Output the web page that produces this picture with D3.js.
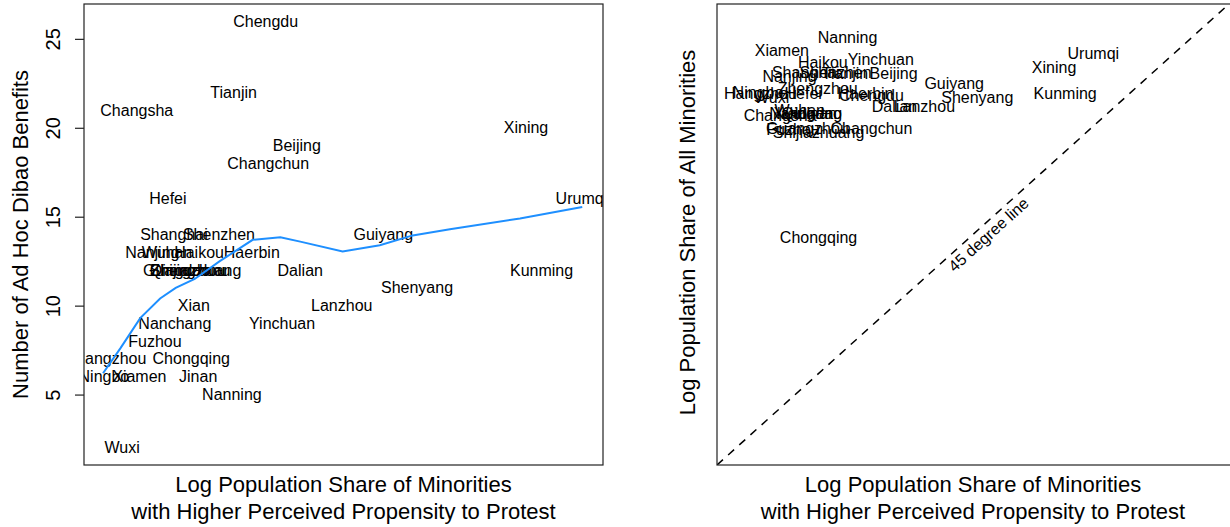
<!DOCTYPE html>
<html>
<head>
<meta charset="utf-8">
<script src="https://cdn.jsdelivr.net/npm/d3@7"></script>
<style>
  html, body { margin: 0; padding: 0; background: #fff; }
  svg { display: block; font-family: "Liberation Sans", Arial, Helvetica, sans-serif; }
</style>
</head>
<body>
<svg id="chart" width="1230" height="527"></svg>
<script>
// ---------------- data ----------------
const cities = ["Beijing","Changchun","Changsha","Chengdu","Chongqing","Dalian","Fuzhou","Guangzhou","Guiyang","Haerbin","Haikou","Hangzhou","Hefei","Jinan","Kunming","Lanzhou","Nanchang","Nanjing","Nanning","Ningbo","Qingdao","Shanghai","Shenyang","Shenzhen","Shijiazhuang","Tianjin","Urumqi","Wuhan","Wuxi","Xiamen","Xian","Xining","Yinchuan","Zhengzhou"];

// left panel: x = log share of minorities w/ higher perceived propensity to protest, y = ad hoc dibao benefits
const leftX = [-4.54,-4.87,-6.39,-4.90,-5.76,-4.50,-6.18,-5.84,-3.54,-5.06,-5.67,-6.70,-6.03,-5.68,-1.71,-4.02,-5.95,-6.21,-5.29,-6.77,-5.89,-5.96,-3.15,-5.44,-5.71,-5.27,-1.25,-6.04,-6.56,-6.36,-5.73,-1.89,-4.71,-5.77];
const leftY = [19,18,21,26,7,12,8,12,14,13,13,7,16,6,12,10,9,13,5,6,12,14,11,14,12,22,16,13,2,6,10,20,9,12];

// loess smoother on left panel
const smoothX = [-6.78,-6.58,-6.35,-6.12,-5.94,-5.72,-5.43,-5.05,-4.73,-4.50,-4.01,-3.58,-3.20,-2.77,-1.96,-1.24];
const smoothY = [6.2,7.6,9.3,10.4,11.0,11.5,12.5,13.7,13.85,13.6,13.05,13.4,13.95,14.3,14.9,15.55];

// right panel: x = log share of minorities w/ higher propensity, y = log share of all minorities
const rightX = [-3.93,-4.19,-5.26,-4.19,-4.81,-3.92,-5.11,-4.94,-3.22,-4.26,-4.76,-5.49,-4.99,-4.82,-1.92,-3.57,-4.96,-5.15,-4.47,-5.52,-4.89,-4.96,-2.95,-4.61,-4.81,-4.50,-1.59,-5.03,-5.36,-5.24,-5.15,-2.05,-4.08,-4.82];
const rightY = [-0.90,-1.62,-1.45,-1.19,-3.04,-1.33,-1.63,-1.62,-1.03,-1.16,-0.76,-1.17,-1.17,-1.42,-1.16,-1.34,-1.42,-0.95,-0.44,-1.15,-1.43,-0.89,-1.22,-0.89,-1.67,-0.90,-0.64,-1.38,-1.22,-0.61,-1.43,-0.82,-0.72,-1.10];

const yTicksLeft = [5, 10, 15, 20, 25];
const diagDomain = [-6, 0];

const xTitleLines = ["Log Population Share of Minorities", "with Higher Perceived Propensity to Protest"];
const yTitleLeft = "Number of Ad Hoc Dibao Benefits";
const yTitleRight = "Log Population Share of All Minorities";
const diagLabel = "45 degree line";

// ---------------- layout ----------------
const svg = d3.select("#chart");
const L = {x0: 84, x1: 603, y0: 4, y1: 465};
const R = {x0: 717, x1: 1229, y0: 4, y1: 465};

const xL = d3.scaleLinear().domain([-7, -1]).range([L.x0, L.x1]);
const yL = d3.scaleLinear().domain([1.04, 26.96]).range([L.y1, L.y0]);
const xR = d3.scaleLinear().domain(diagDomain).range([R.x0, R.x1]);
const yR = d3.scaleLinear().domain(diagDomain).range([R.y1, R.y0]);

const defs = svg.append("defs");
function clip(id, b) {
  defs.append("clipPath").attr("id", id).append("rect")
    .attr("x", b.x0).attr("y", b.y0).attr("width", b.x1 - b.x0).attr("height", b.y1 - b.y0);
}
clip("clipL", L); clip("clipR", R);

const labelFont = 16;

// ---------- LEFT PANEL ----------
const gL = svg.append("g").attr("clip-path", "url(#clipL)");
gL.selectAll("text.city").data(cities).join("text")
  .attr("class", "city")
  .attr("x", (d, i) => xL(leftX[i]))
  .attr("y", (d, i) => yL(leftY[i]))
  .attr("text-anchor", "middle")
  .attr("dominant-baseline", "central")
  .attr("font-size", labelFont)
  .attr("fill", "#000")
  .text(d => d);

const smooth = smoothX.map((x, i) => [x, smoothY[i]]);
gL.append("path")
  .attr("d", d3.line().x(d => xL(d[0])).y(d => yL(d[1])).curve(d3.curveLinear)(smooth))
  .attr("fill", "none").attr("stroke", "#1E8FFF").attr("stroke-width", 2);

svg.append("rect").attr("x", L.x0).attr("y", L.y0).attr("width", L.x1 - L.x0).attr("height", L.y1 - L.y0)
  .attr("fill", "none").attr("stroke", "#222").attr("stroke-width", 1.2);

const axL = svg.append("g").attr("transform", `translate(${L.x0},0)`)
  .call(d3.axisLeft(yL).tickValues(yTicksLeft).tickSize(9).tickSizeOuter(0).tickFormat(d3.format("d")));
axL.select(".domain").remove();
axL.selectAll(".tick line").attr("stroke", "#222").attr("stroke-width", 1.2);
axL.selectAll(".tick text")
  .attr("font-size", 20).attr("font-family", "Liberation Sans, Arial, sans-serif").attr("fill", "#000")
  .attr("x", null).attr("dy", null)
  .attr("text-anchor", "middle").attr("dominant-baseline", "central")
  .attr("transform", "translate(-31,0) rotate(-90)");

svg.append("text").attr("transform", `translate(20,${(L.y0 + L.y1) / 2}) rotate(-90)`)
  .attr("text-anchor", "middle").attr("dominant-baseline", "central")
  .attr("font-size", 22).text(yTitleLeft);

function xTitle(cx) {
  xTitleLines.forEach((t, i) => {
    svg.append("text").attr("x", cx).attr("y", 484 + i * 27)
      .attr("text-anchor", "middle").attr("dominant-baseline", "central")
      .attr("font-size", 22).text(t);
  });
}
xTitle((L.x0 + L.x1) / 2);

// ---------- RIGHT PANEL ----------
const gR = svg.append("g").attr("clip-path", "url(#clipR)");
gR.append("line")
  .attr("x1", xR(diagDomain[0])).attr("y1", yR(diagDomain[0]))
  .attr("x2", xR(diagDomain[1])).attr("y2", yR(diagDomain[1]))
  .attr("stroke", "#000").attr("stroke-width", 1.5).attr("stroke-dasharray", "8,7");

gR.selectAll("text.city").data(cities).join("text")
  .attr("class", "city")
  .attr("x", (d, i) => xR(rightX[i]))
  .attr("y", (d, i) => yR(rightY[i]))
  .attr("text-anchor", "middle")
  .attr("dominant-baseline", "central")
  .attr("font-size", labelFont)
  .attr("fill", "#000")
  .text(d => d);

const ang = Math.atan2(yR(diagDomain[1]) - yR(diagDomain[0]), xR(diagDomain[1]) - xR(diagDomain[0])) * 180 / Math.PI;
const diagMid = (diagDomain[0] + diagDomain[1]) / 2 + 0.1;
gR.append("text")
  .attr("transform", `translate(${xR(diagMid)},${yR(diagMid)}) rotate(${ang})`)
  .attr("text-anchor", "middle")
  .attr("dy", "1.0em")
  .attr("font-size", 16)
  .text(diagLabel);

svg.append("rect").attr("x", R.x0).attr("y", R.y0).attr("width", R.x1 - R.x0 + 5).attr("height", R.y1 - R.y0)
  .attr("fill", "none").attr("stroke", "#222").attr("stroke-width", 1.2);

svg.append("text").attr("transform", `translate(687,${(R.y0 + R.y1) / 2 - 2}) rotate(-90)`)
  .attr("text-anchor", "middle").attr("dominant-baseline", "central")
  .attr("font-size", 22).text(yTitleRight);

xTitle((R.x0 + R.x1) / 2);
</script>
</body>
</html>
